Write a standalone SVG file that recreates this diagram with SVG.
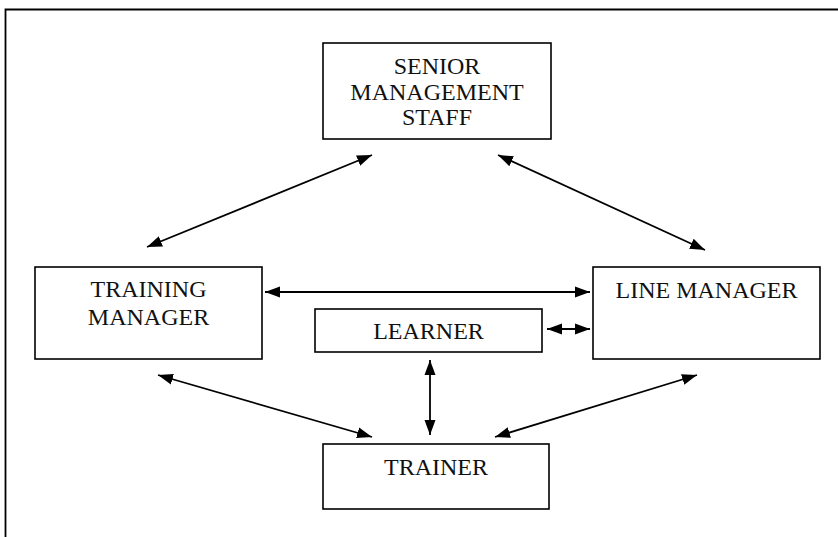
<svg xmlns="http://www.w3.org/2000/svg" width="838" height="537" viewBox="0 0 838 537">
  <style>
    .box { fill: #ffffff; stroke: #000000; stroke-width: 1.6; }
    .label { font-family: "Liberation Serif", "Times New Roman", serif; font-size: 24px; fill: #111111; text-anchor: middle; }
    .link { stroke: #000000; stroke-width: 1.8; fill: none; marker-start: url(#head); marker-end: url(#head); }
    .frame { stroke: #000000; stroke-width: 1.8; fill: none; }
  </style>
  <defs>
    <marker id="head" markerUnits="userSpaceOnUse" markerWidth="15" markerHeight="12" viewBox="0 0 15 12" refX="15" refY="6" orient="auto-start-reverse">
      <path d="M0,0.5 L15,6 L0,11.5 Z" fill="#000000"/>
    </marker>
  </defs>

  <rect width="838" height="537" fill="#ffffff"/>

  <!-- outer page frame: top and left edges only -->
  <path class="frame" d="M5.5,537 L5.5,9.5 L838,9.5"/>

  <g id="senior-management-staff">
    <rect class="box" x="323" y="43" width="228" height="96"/>
    <text class="label" x="437" y="74">SENIOR</text>
    <text class="label" x="437" y="99.5">MANAGEMENT</text>
    <text class="label" x="437" y="125">STAFF</text>
  </g>

  <g id="training-manager">
    <rect class="box" x="35" y="267" width="227" height="92"/>
    <text class="label" x="148.5" y="297">TRAINING</text>
    <text class="label" x="148.5" y="325">MANAGER</text>
  </g>

  <g id="line-manager">
    <rect class="box" x="593" y="267" width="227" height="92"/>
    <text class="label" x="706.5" y="298">LINE MANAGER</text>
  </g>

  <g id="learner">
    <rect class="box" x="315" y="309" width="227" height="43"/>
    <text class="label" x="428.5" y="339">LEARNER</text>
  </g>

  <g id="trainer">
    <rect class="box" x="323" y="444" width="226" height="65"/>
    <text class="label" x="436" y="475">TRAINER</text>
  </g>

  <g id="connectors">
    <line class="link" x1="372" y1="155" x2="147" y2="247"/>
    <line class="link" x1="498" y1="155" x2="705" y2="250"/>
    <line class="link" x1="265" y1="292" x2="590" y2="292"/>
    <line class="link" x1="547" y1="329" x2="590" y2="329"/>
    <line class="link" x1="430" y1="360" x2="430" y2="435"/>
    <line class="link" x1="158" y1="375" x2="372" y2="437"/>
    <line class="link" x1="697" y1="375" x2="495" y2="437"/>
  </g>
</svg>
